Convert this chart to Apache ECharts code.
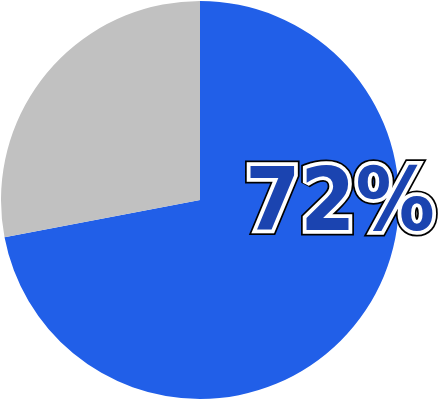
<!DOCTYPE html>
<html>
<head>
<meta charset="utf-8">
<script src="https://cdn.jsdelivr.net/npm/echarts@6/dist/echarts.min.js"></script>
<style>
html,body{margin:0;padding:0;background:#fff;}
#main{width:441px;height:400px;}
</style>
</head>
<body>
<div id="main"></div>
<script>
// slice names and values
var names = ['done', 'rest'];
var values = [72, 28];
var colors = ['#215fe8', '#c1c1c1'];

var total = values[0] + values[1];
var pct = Math.round(values[0] / total * 100) + '%';

var myChart = echarts.init(document.getElementById('main'));

var labelFont = 'bold 88px "DejaVu Sans Condensed"';
var lx = 340, ly = 207;

function layer(z, fill, stroke, lw) {
  var s = {
    text: pct,
    align: 'center',
    verticalAlign: 'middle',
    font: labelFont,
    fill: fill
  };
  if (stroke) {
    s.stroke = stroke;
    s.lineWidth = lw;
    s.lineJoin = 'miter';
  }
  return {type: 'text', z: z, x: lx, y: ly, style: s};
}

var option = {
  animation: false,
  series: [{
    type: 'pie',
    center: [200, 200],
    radius: [0, 199],
    startAngle: 90,
    clockwise: true,
    label: {show: false},
    labelLine: {show: false},
    silent: true,
    data: names.map(function (n, i) {
      return {name: n, value: values[i], itemStyle: {color: colors[i]}};
    })
  }],
  graphic: {
    elements: [
      layer(100, '#000', '#000', 11),
      layer(101, '#fff', '#fff', 7.5),
      layer(102, '#1b44b0', null, 0)
    ]
  }
};
myChart.setOption(option);

// text fill can't be a gradient, so stack clipped colour bands on top
var zr = myChart.getZr();
var top = 166, bot = 238, nb = 24;
var c0 = [0x25, 0x5a, 0xe0], c1 = [0x10, 0x2a, 0x72];
for (var i = 0; i < nb; i++) {
  var t = i / (nb - 1);
  var col = 'rgb(' + c0.map(function (v, k) {
    return Math.round(v + (c1[k] - v) * t);
  }).join(',') + ')';
  var y0 = top + (bot - top) * i / nb;
  var h = (bot - top) / nb;
  if (i === 0) { h += y0 - 140; y0 = 140; }
  if (i === nb - 1) { h += 20; }
  var txt = new echarts.graphic.Text({
    z: 200,
    x: lx, y: ly,
    silent: true,
    style: {
      text: pct,
      align: 'center',
      verticalAlign: 'middle',
      font: labelFont,
      fill: col
    }
  });
  txt.setClipPath(new echarts.graphic.Rect({
    shape: {x: lx - 120, y: y0, width: 240, height: h + 0.5}
  }));
  zr.add(txt);
}
</script>
</body>
</html>
